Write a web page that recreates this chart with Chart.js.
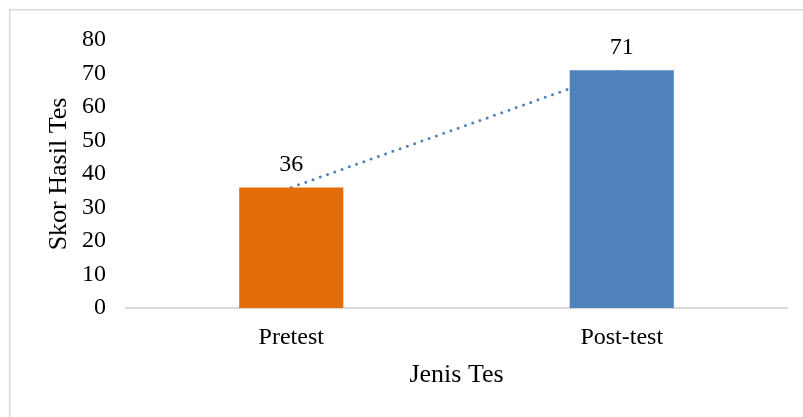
<!DOCTYPE html>
<html>
<head>
<meta charset="utf-8">
<title>Skor Hasil Tes</title>
<script src="https://cdn.jsdelivr.net/npm/chart.js@4/dist/chart.umd.min.js"></script>
<style>
  html, body { margin: 0; padding: 0; background: #ffffff; }
  canvas { display: block; }
</style>
</head>
<body>
<canvas id="chart" width="803" height="417"></canvas>
<script>
// Test categories and mean scores
const categories = ['Pretest', 'Post-test'];
const scores = [36, 71];
const barColors = ['#E46C0A', '#4F81BD'];
const yTicks = [0, 10, 20, 30, 40, 50, 60, 70, 80];

const serif = "'Liberation Serif', 'Times New Roman', serif";

// Light frame around the chart
const framePlugin = {
  id: 'frame',
  beforeDraw(chart) {
    const ctx = chart.ctx;
    ctx.save();
    ctx.fillStyle = '#ffffff';
    ctx.fillRect(0, 0, chart.width, chart.height);
    ctx.strokeStyle = '#d9d9d9';
    ctx.lineWidth = 1.5;
    ctx.beginPath();
    ctx.moveTo(9.75, chart.height + 2);
    ctx.lineTo(9.75, 9.75);
    ctx.lineTo(chart.width + 2, 9.75);
    ctx.stroke();
    ctx.restore();
  }
};

// Value labels above each bar
const valueLabels = {
  id: 'valueLabels',
  afterDatasetsDraw(chart) {
    const meta = chart.getDatasetMeta(0);
    const ctx = chart.ctx;
    ctx.save();
    ctx.font = '24px ' + serif;
    ctx.fillStyle = '#000000';
    ctx.textAlign = 'center';
    ctx.textBaseline = 'alphabetic';
    meta.data.forEach((bar, i) => {
      ctx.fillText(String(scores[i]), bar.x, bar.y - 16);
    });
    ctx.restore();
  }
};

new Chart(document.getElementById('chart'), {
  type: 'bar',
  data: {
    labels: categories,
    datasets: [
      {
        type: 'bar',
        data: scores,
        backgroundColor: barColors,
        borderWidth: 0,
        barPercentage: 0.315,
        categoryPercentage: 1,
        order: 1
      },
      {
        type: 'line',
        data: scores,
        borderColor: '#4F81BD',
        borderWidth: 3,
        borderDash: [0, 7.7],
        borderCapStyle: 'round',
        pointRadius: 0,
        fill: false,
        tension: 0,
        order: 2
      }
    ]
  },
  options: {
    responsive: false,
    animation: false,
    devicePixelRatio: 1,
    layout: { padding: { top: 40, right: 16, bottom: 0, left: 0 } },
    plugins: {
      legend: { display: false },
      tooltip: { enabled: false }
    },
    scales: {
      x: {
        grid: { display: false, drawTicks: false },
        border: { display: true, color: '#d9d9d9', width: 2 },
        ticks: {
          color: '#000000',
          font: { family: serif, size: 24 },
          padding: 15,
          maxRotation: 0
        },
        title: {
          display: true,
          text: 'Jenis Tes',
          color: '#000000',
          font: { family: serif, size: 26 },
          padding: { top: 0, bottom: 26 }
        },
        afterFit(scale) { scale.height = 109; }
      },
      y: {
        min: 0,
        max: 80,
        afterBuildTicks(scale) { scale.ticks = yTicks.map(v => ({ value: v })); },
        grid: { display: false, drawTicks: false },
        border: { display: false },
        ticks: {
          color: '#000000',
          font: { family: serif, size: 24 },
          padding: 20
        },
        title: {
          display: true,
          text: 'Skor Hasil Tes',
          color: '#000000',
          font: { family: serif, size: 26 },
          padding: { top: 44, bottom: 0 }
        },
        afterFit(scale) { scale.width = 126; }
      }
    }
  },
  plugins: [framePlugin, valueLabels]
});
</script>
</body>
</html>
